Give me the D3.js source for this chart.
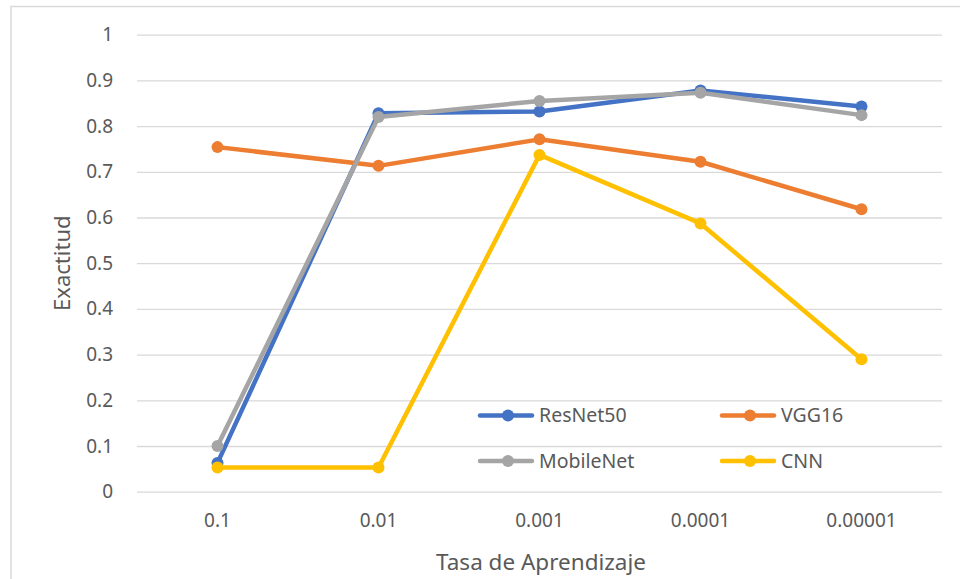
<!DOCTYPE html>
<html>
<head>
<meta charset="utf-8">
<script src="https://cdn.jsdelivr.net/npm/d3@7/dist/d3.min.js"></script>
<style>
  html, body { margin: 0; padding: 0; background: #fff; }
  svg { display: block; font-family: "Noto Sans", "Open Sans", sans-serif; }
</style>
</head>
<body>
<svg id="chart" width="960" height="579"></svg>
<script>
// Learning rates on the x axis
const rates = ["0.1", "0.01", "0.001", "0.0001", "0.00001"];

// Accuracy per model at each learning rate
const resnet50  = [0.063, 0.828, 0.832, 0.878, 0.843];
const vgg16     = [0.754, 0.713, 0.771, 0.722, 0.618];
const mobilenet = [0.100, 0.820, 0.855, 0.873, 0.824];
const cnn       = [0.053, 0.053, 0.737, 0.587, 0.290];

const seriesNames  = ["ResNet50", "VGG16", "MobileNet", "CNN"];
const seriesColors = ["#4472C4", "#ED7D31", "#A5A5A5", "#FFC000"];
const yTicks = [0, 0.1, 0.2, 0.3, 0.4, 0.5, 0.6, 0.7, 0.8, 0.9, 1];

const series = [resnet50, vgg16, mobilenet, cnn].map((vals, i) => ({
  name: seriesNames[i], color: seriesColors[i], values: vals
}));

const svg = d3.select("#chart");
const textColor = "#595959";
const gridColor = "#D9D9D9";

// Chart frame
svg.append("rect")
  .attr("x", 11).attr("y", 6.5)
  .attr("width", 980).attr("height", 600)
  .attr("fill", "#fff")
  .attr("stroke", gridColor).attr("stroke-width", 1.5);

const plot = { left: 137, right: 942, top: 34.7, bottom: 491.7 };

const x = d3.scaleBand().domain(rates).range([plot.left, plot.right]);
const y = d3.scaleLinear().domain([0, 1]).range([plot.bottom, plot.top]);

// Horizontal gridlines + y labels
const yAxis = d3.axisLeft(y)
  .tickValues(yTicks)
  .tickSize(-(plot.right - plot.left))
  .tickPadding(24)
  .tickFormat(d => d3.format("")(+d.toFixed(1)));

const gy = svg.append("g")
  .attr("transform", `translate(${plot.left},0)`)
  .call(yAxis);
gy.select(".domain").remove();
gy.selectAll(".tick line").attr("stroke", gridColor).attr("stroke-width", 1.3);
gy.selectAll(".tick text")
  .attr("fill", textColor)
  .attr("font-size", 19)
  .attr("font-family", "Noto Sans, sans-serif");

// X axis labels
const xAxis = d3.axisBottom(x).tickSize(0).tickPadding(22);
const gx = svg.append("g")
  .attr("transform", `translate(0,${plot.bottom})`)
  .call(xAxis);
gx.select(".domain").remove();
gx.selectAll(".tick text")
  .attr("fill", textColor)
  .attr("font-size", 19)
  .attr("font-family", "Noto Sans, sans-serif");

// Axis titles
svg.append("text")
  .attr("x", 541)
  .attr("y", 570)
  .attr("text-anchor", "middle")
  .attr("fill", textColor)
  .attr("font-size", 22.5)
  .text("Tasa de Aprendizaje");

svg.append("text")
  .attr("transform", `translate(70,${(plot.top + plot.bottom) / 2}) rotate(-90)`)
  .attr("text-anchor", "middle")
  .attr("fill", textColor)
  .attr("font-size", 22)
  .text("Exactitud");

// Lines with markers
const cx = d => x(d) + x.bandwidth() / 2;
const line = d3.line()
  .x((d, i) => cx(rates[i]))
  .y(d => y(d));

const sg = svg.append("g").selectAll("g.series")
  .data(series).join("g").attr("class", "series");

sg.append("path")
  .attr("d", d => line(d.values))
  .attr("fill", "none")
  .attr("stroke", d => d.color)
  .attr("stroke-width", 4.5)
  .attr("stroke-linejoin", "round")
  .attr("stroke-linecap", "round");

sg.selectAll("circle")
  .data(d => d.values.map((v, i) => ({ v, i, color: d.color })))
  .join("circle")
  .attr("cx", d => cx(rates[d.i]))
  .attr("cy", d => y(d.v))
  .attr("r", 6)
  .attr("fill", d => d.color);

// Legend (2 x 2)
const legendPos = [
  { x: 480, y: 415.5 }, { x: 722, y: 415.5 },
  { x: 480, y: 461 },   { x: 722, y: 461 }
];
const lg = svg.append("g").selectAll("g.legend")
  .data(series).join("g").attr("class", "legend")
  .attr("transform", (d, i) => `translate(${legendPos[i].x},${legendPos[i].y})`);

lg.append("line")
  .attr("x1", 0).attr("x2", 52)
  .attr("stroke", d => d.color)
  .attr("stroke-width", 4.5)
  .attr("stroke-linecap", "round");
lg.append("circle")
  .attr("cx", 28).attr("cy", 0).attr("r", 6)
  .attr("fill", d => d.color);
lg.append("text")
  .attr("x", 59).attr("y", 0)
  .attr("dy", "0.35em")
  .attr("fill", textColor)
  .attr("font-size", 19.5)
  .text(d => d.name);
</script>
</body>
</html>
